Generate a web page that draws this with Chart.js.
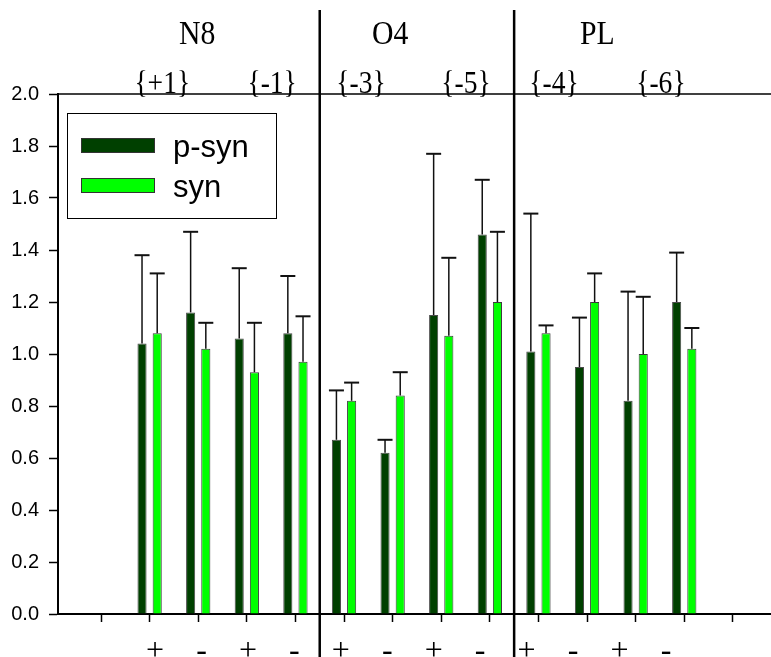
<!DOCTYPE html>
<html>
<head>
<meta charset="utf-8">
<script src="https://cdn.jsdelivr.net/npm/chart.js@4.4.1/dist/chart.umd.min.js"></script>
<style>
  html, body { margin: 0; padding: 0; background: #fff; }
  canvas { display: block; }
</style>
</head>
<body>
<canvas id="chart" width="771" height="657"></canvas>
<script>
// Slots 1 and 14 stay empty; the bar pairs sit on slots 2..13
const slots = [2, 3, 4, 5, 6, 7, 8, 9, 10, 11, 12, 13];
const signs = ['+', '-', '+', '-', '+', '-', '+', '-', '+', '-', '+', '-'];
const groups = ['N8', 'O4', 'PL'];
const subgroups = ['{+1}', '{-1}', '{-3}', '{-5}', '{-4}', '{-6}'];

// Means and upper error (SD) per slot
const psynMean = [1.04, 1.16, 1.06, 1.08, 0.67, 0.62, 1.15, 1.46, 1.01, 0.95, 0.82, 1.20];
const psynErr  = [0.34, 0.31, 0.27, 0.22, 0.19, 0.05, 0.62, 0.21, 0.53, 0.19, 0.42, 0.19];
const synMean  = [1.08, 1.02, 0.93, 0.97, 0.82, 0.84, 1.07, 1.20, 1.08, 1.20, 1.00, 1.02];
const synErr   = [0.23, 0.10, 0.19, 0.175, 0.07, 0.09, 0.30, 0.27, 0.03, 0.11, 0.22, 0.08];

// Where the header texts and separators go, in x-axis units
const header = {
    groupX: [2.98, 6.95, 11.21],
    subgroupX: [2.26, 4.52, 6.35, 8.51, 10.32, 12.52],
    dividerX: [5.5, 9.5]
};

const serif = '"Liberation Serif", "Times New Roman", serif';
const sans = '"Liberation Sans", Arial, sans-serif';

/**
 * Upper error bars with a flat cap, drawn over each bar
 */
const errorBars = {
    id: 'errorBars',
    afterDatasetsDraw(chart) {
        const ctx = chart.ctx;
        const yScale = chart.scales.y;
        ctx.save();
        ctx.strokeStyle = '#111';
        chart.data.datasets.forEach((ds, i) => {
            const meta = chart.getDatasetMeta(i);
            meta.data.forEach((bar, j) => {
                const value = ds.data[j].y;
                const top = yScale.getPixelForValue(value + ds.errors[j]);
                const base = yScale.getPixelForValue(value);
                ctx.lineWidth = 1.5;
                ctx.beginPath();
                ctx.moveTo(bar.x, base);
                ctx.lineTo(bar.x, top);
                ctx.stroke();
                ctx.lineWidth = 2;
                ctx.beginPath();
                ctx.moveTo(bar.x - 7.5, top);
                ctx.lineTo(bar.x + 7.5, top);
                ctx.stroke();
            });
        });
        ctx.restore();
    }
};

// narrow serif text, centred on (x, y)
function condensedText(ctx, text, x, y, squeeze) {
    ctx.save();
    ctx.translate(x, y);
    ctx.scale(squeeze, 1);
    ctx.fillText(text, 0, 0);
    ctx.restore();
}

/**
 * Top frame line, group separators, header texts and the boxed legend
 */
const decorations = {
    id: 'decorations',
    afterDraw(chart) {
        const ctx = chart.ctx;
        const area = chart.chartArea;
        const xScale = chart.scales.x;
        const yScale = chart.scales.y;
        ctx.save();

        // frame line along 2.0
        const yTop = yScale.getPixelForValue(2);
        ctx.strokeStyle = '#000';
        ctx.lineWidth = 1.5;
        ctx.beginPath();
        ctx.moveTo(area.left, yTop);
        ctx.lineTo(area.right, yTop);
        ctx.stroke();

        // separators between N8 / O4 / PL
        ctx.lineWidth = 2.5;
        header.dividerX.forEach(v => {
            const px = xScale.getPixelForValue(v);
            ctx.beginPath();
            ctx.moveTo(px, 10);
            ctx.lineTo(px, chart.height);
            ctx.stroke();
        });

        // header texts
        ctx.fillStyle = '#000';
        ctx.textAlign = 'center';
        ctx.textBaseline = 'middle';
        ctx.font = '33px ' + serif;
        groups.forEach((g, i) => {
            condensedText(ctx, g, xScale.getPixelForValue(header.groupX[i]), area.top - 59, 0.9);
        });
        ctx.font = '32px ' + serif;
        subgroups.forEach((s, i) => {
            condensedText(ctx, s, xScale.getPixelForValue(header.subgroupX[i]), area.top - 9, 0.86);
        });

        // legend box
        const lx = area.left + 9;
        const ly = area.top + 19;
        ctx.lineWidth = 1;
        ctx.strokeStyle = '#000';
        ctx.strokeRect(lx + 0.5, ly + 0.5, 209, 105);
        ctx.textAlign = 'left';
        ctx.textBaseline = 'alphabetic';
        ctx.font = '31px ' + sans;
        chart.data.datasets.forEach((ds, i) => {
            const sy = ly + 25 + i * 40;
            ctx.fillStyle = ds.backgroundColor;
            ctx.fillRect(lx + 14, sy, 74, 15);
            ctx.strokeStyle = '#333';
            ctx.strokeRect(lx + 14.5, sy + 0.5, 73, 14);
            ctx.fillStyle = '#000';
            ctx.fillText(ds.label, lx + 106, sy + 19);
        });

        ctx.restore();
    }
};

const ctx = document.getElementById('chart').getContext('2d');

new Chart(ctx, {
    type: 'bar',
    data: {
        datasets: [{
            label: 'p-syn',
            data: slots.map((s, i) => ({ x: s, y: psynMean[i] })),
            errors: psynErr,
            backgroundColor: '#004000',
            borderColor: '#4a4a4a',
            borderWidth: 1
        }, {
            label: 'syn',
            data: slots.map((s, i) => ({ x: s, y: synMean[i] })),
            errors: synErr,
            backgroundColor: '#00ff00',
            borderColor: '#3a3a3a',
            borderWidth: 1
        }]
    },
    options: {
        responsive: false,
        animation: false,
        layout: {
            padding: { top: 94, left: 0, right: 0, bottom: 0 }
        },
        datasets: {
            bar: { categoryPercentage: 0.625, barPercentage: 0.6 }
        },
        plugins: {
            legend: { display: false },
            tooltip: { enabled: false }
        },
        scales: {
            x: {
                type: 'linear',
                position: 'bottom',
                weight: 0,
                min: 0.115,
                max: 14.785,
                offset: false,
                ticks: { display: false, stepSize: 1, includeBounds: false },
                grid: {
                    offset: false,
                    drawOnChartArea: false,
                    tickLength: 8,
                    tickWidth: 1.5,
                    tickColor: '#000'
                },
                border: { color: '#000', width: 2 },
                afterFit(scale) { scale.height = 8; }
            },
            signs: {
                type: 'linear',
                axis: 'x',
                position: 'bottom',
                weight: 1,
                min: -1.088,
                max: 14.26,
                offset: false,
                ticks: {
                    stepSize: 1,
                    includeBounds: false,
                    autoSkip: false,
                    maxRotation: 0,
                    padding: 2,
                    color: '#000',
                    font: { family: serif, size: 32 },
                    callback: v => signs[v - 1] ?? ''
                },
                grid: { display: false },
                border: { display: false },
                afterFit(scale) { scale.height = 35; }
            },
            y: {
                min: 0,
                max: 2,
                ticks: {
                    stepSize: 0.2,
                    padding: 10,
                    color: '#000',
                    font: { family: sans, size: 20 },
                    callback: v => v.toFixed(1)
                },
                grid: {
                    drawOnChartArea: false,
                    tickLength: 9,
                    tickWidth: 1.5,
                    tickColor: '#000'
                },
                border: { color: '#000', width: 2 },
                afterFit(scale) { scale.width = 58; }
            }
        }
    },
    plugins: [errorBars, decorations]
});
</script>
</body>
</html>
